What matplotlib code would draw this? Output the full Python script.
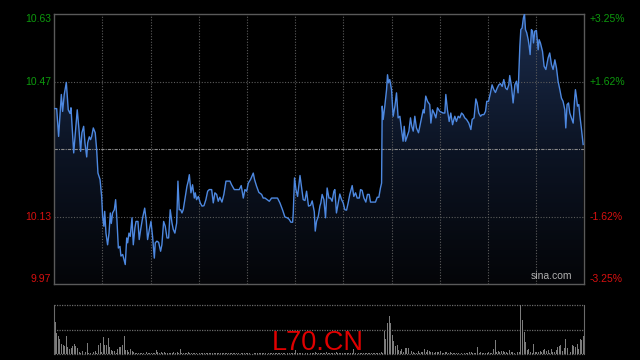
import numpy as np
import matplotlib.pyplot as plt
from matplotlib.colors import LinearSegmentedColormap

plt.rcParams['font.family'] = ['Liberation Sans', 'DejaVu Sans']

# intraday price, minutes from open
minutes = [0.4, 1.5, 2.7, 4.4, 5.2, 6.2, 7.5, 8.7, 9.8, 10.4, 12.1, 13.1, 14.3, 15.4, 16.4, 17.2, 18.3, 19.1,
           20.2, 20.8, 21.8, 22.6, 23.3, 24.3, 25.5, 26.4, 27.2, 28.5, 29.5, 30.1, 30.9, 31.4, 32.2, 33.2, 34.1,
           34.9, 35.5, 36.3, 37.4, 38.2, 39.0, 39.9, 40.9, 41.5, 42.6, 43.2, 44.2, 45.1, 45.7, 46.5, 47.3, 48.4,
           49.2, 50.2, 50.9, 52.1, 52.9, 53.8, 55.0, 56.3, 57.3, 58.1, 59.2, 60.2, 61.2, 62.3, 62.9, 63.9, 65.0,
           66.2, 67.0, 68.1, 69.1, 70.2, 71.2, 72.2, 73.3, 74.1, 75.1, 76.2, 77.0, 77.8, 78.7, 79.5, 80.3, 81.6,
           82.6, 83.4, 84.1, 85.1, 86.1, 87.2, 87.8, 88.6, 89.7, 90.9, 92.0, 93.2, 94.4, 95.5, 96.5, 98.0, 99.0,
           100.0, 101.1, 102.1, 103.1, 104.4, 105.6, 106.9, 109.4, 110.4, 112.1, 113.9, 115.2, 116.4, 117.7,
           118.7, 119.8, 120.8, 122.2, 123.9, 124.7, 126.0, 127.4, 129.1, 130.1, 131.2, 132.6, 133.9, 135.3,
           137.6, 139.0, 140.5, 142.2, 143.6, 145.1, 146.3, 147.3, 148.4, 148.8, 149.6, 150.5, 151.5, 153.0,
           154.2, 155.0, 156.1, 157.1, 158.3, 159.6, 160.6, 161.9, 162.5, 163.3, 164.4, 165.4,
           166.0, 166.8, 167.9, 168.9, 169.9, 171.0, 172.0, 173.0, 174.1, 174.7, 175.7, 176.8, 177.8, 178.9,
           179.9, 180.9, 182.0, 183.0, 184.0, 185.5, 186.5, 187.6, 188.6, 189.9, 190.7, 191.7, 192.8, 194.0,
           195.0, 196.1, 196.9, 200.0, 201.1, 202.1, 203.1, 203.8, 204.2, 204.8, 205.8, 206.9, 207.5, 208.1,
           208.9, 210.0, 211.0, 212.1, 213.1, 214.1, 215.2, 216.2, 217.2, 217.9, 218.7, 219.7, 220.8, 221.8,
           222.6, 223.5, 224.5, 225.5, 226.8, 227.6, 228.6, 229.7, 230.3, 231.3, 232.4, 233.8, 234.5, 235.5,
           236.5, 237.6, 238.6, 240.1,
           242.1, 243.2, 243.8, 244.8, 245.9, 246.9, 248.0, 248.8, 249.4, 250.4, 251.5, 252.5, 253.6, 254.6,
           255.6, 256.7, 258.1, 259.4, 260.2, 261.4, 262.5, 263.3, 264.3, 265.4, 266.4, 267.5, 268.5, 269.3,
           270.4, 271.6, 272.6, 273.7, 274.7, 275.8, 276.8, 277.8, 278.9, 279.9, 281.0, 282.0, 283.0, 283.6,
           284.7, 285.7, 286.8, 287.8, 288.8, 289.9, 290.5, 291.3, 292.1, 292.8, 293.4, 294.2, 295.1, 295.7,
           296.3, 297.1, 297.8, 298.4, 299.2, 300.2, 301.3, 301.9, 302.7, 304.0, 305.0, 306.1, 307.5, 308.5,
           309.6, 310.6, 311.7, 312.7, 313.7, 314.8, 315.8, 316.8, 317.9, 318.5, 319.3, 320.2, 321.0, 322.0,
           323.1, 323.9, 324.5, 325.1, 325.8, 326.6, 327.2, 328.3, 329.3]
prices = [10.401, 10.401, 10.332, 10.436, 10.394, 10.436, 10.466, 10.398, 10.389, 10.403, 10.291, 10.341,
          10.398, 10.349, 10.295, 10.341, 10.357, 10.316, 10.281, 10.316, 10.331, 10.324, 10.332, 10.353,
          10.341, 10.299, 10.241, 10.225, 10.183, 10.134, 10.109, 10.146, 10.092, 10.063, 10.092, 10.142,
          10.116, 10.142, 10.150, 10.175, 10.126, 10.055, 10.059, 10.035, 10.039, 10.030, 10.014, 10.080,
          10.068, 10.092, 10.084, 10.130, 10.063, 10.105, 10.121, 10.121, 10.076, 10.101, 10.130, 10.154,
          10.121, 10.076, 10.101, 10.121, 10.084, 10.030, 10.068, 10.072, 10.069, 10.047, 10.063, 10.121,
          10.109, 10.080, 10.080, 10.150, 10.117, 10.101, 10.092, 10.117, 10.221, 10.150, 10.150, 10.142,
          10.150, 10.183, 10.208, 10.221, 10.237, 10.192, 10.212, 10.179, 10.192, 10.175, 10.183, 10.167,
          10.159, 10.160, 10.175, 10.196, 10.200, 10.200, 10.167, 10.192, 10.188, 10.171, 10.181, 10.169,
          10.188, 10.221, 10.221, 10.212, 10.200, 10.200, 10.200, 10.210, 10.179, 10.200, 10.196, 10.216,
          10.225, 10.241, 10.225, 10.208, 10.193, 10.188, 10.179, 10.179, 10.175, 10.171, 10.179, 10.179,
          10.179, 10.167, 10.149, 10.132, 10.130, 10.126, 10.119, 10.119, 10.142, 10.229, 10.200, 10.183,
          10.235, 10.200, 10.175, 10.173, 10.196, 10.159, 10.161, 10.172, 10.145, 10.097, 10.121, 10.134,
          10.159,
          10.167, 10.188, 10.175, 10.130, 10.204, 10.179, 10.179, 10.171, 10.196, 10.200, 10.142, 10.167,
          10.189, 10.175, 10.167, 10.150, 10.149, 10.167, 10.188, 10.210, 10.183, 10.192, 10.179, 10.179,
          10.200, 10.198, 10.179, 10.169, 10.188, 10.188, 10.169, 10.169, 10.181, 10.181, 10.204, 10.216,
          10.407, 10.374, 10.407, 10.448, 10.485, 10.465, 10.473, 10.448, 10.382, 10.407, 10.440, 10.378,
          10.382, 10.349, 10.320, 10.357, 10.320, 10.332, 10.345, 10.378, 10.357, 10.345, 10.382, 10.353,
          10.341, 10.357, 10.378, 10.398, 10.390, 10.432, 10.419, 10.411, 10.365, 10.398, 10.390, 10.378,
          10.403, 10.394,
          10.390, 10.390, 10.436, 10.398, 10.369, 10.390, 10.361, 10.374, 10.382, 10.369, 10.382, 10.378,
          10.390, 10.386, 10.378, 10.374, 10.365, 10.349, 10.374, 10.378, 10.425, 10.415, 10.390, 10.382,
          10.386, 10.386, 10.394, 10.419, 10.419, 10.440, 10.460, 10.448, 10.441, 10.452, 10.460, 10.463,
          10.456, 10.473, 10.452, 10.448, 10.460, 10.483, 10.456, 10.415, 10.460, 10.469, 10.440, 10.556,
          10.597, 10.601, 10.626, 10.635, 10.597, 10.589, 10.572, 10.556, 10.535, 10.597, 10.593, 10.564,
          10.593, 10.595, 10.547, 10.572, 10.564, 10.543, 10.506, 10.498, 10.527, 10.539, 10.510, 10.498,
          10.522, 10.502, 10.469, 10.448, 10.427, 10.419, 10.398, 10.353, 10.411, 10.415, 10.390, 10.378,
          10.365, 10.419, 10.448, 10.431, 10.407, 10.411, 10.386, 10.349, 10.312]

# volume per minute, scaled so the largest bar = 100
volume = [66, 43, 36, 30, 21, 18, 17, 37, 14, 10, 12, 16, 21, 17, 12, 4, 3, 7, 7, 4,
          23, 2, 3, 5, 4, 7, 3, 19, 23, 5, 35, 18, 18, 33, 14, 9, 7, 7, 3, 10,
          15, 15, 18, 36, 9, 9, 5, 11, 7, 4, 3, 2, 3, 2, 2, 3, 2, 5, 2, 3,
          3, 2, 2, 9, 4, 2, 5, 2, 5, 2, 3, 3, 2, 2, 5, 3, 5, 2, 10, 3,
          2, 2, 2, 4, 3, 2, 3, 2, 2, 3, 3, 2, 3, 3, 2, 2, 2, 3, 2, 2,
          2, 3, 2, 2, 2, 3, 2, 2, 3, 2, 3, 2, 2, 3, 2, 1, 2, 3, 2, 2,
          3, 2, 2, 1, 2, 3, 2, 2, 2, 3, 2, 2, 1, 2, 3, 2, 2, 2, 3, 2,
          2, 3, 2, 2, 1, 2, 2, 3, 2, 2, 9, 2, 3, 2, 2, 3, 2, 2, 1, 2,
          3, 2, 5, 2, 2, 3, 2, 2, 2, 5, 2, 3, 2, 2, 3, 4, 2, 2, 3, 2,
          2, 3, 2, 2, 2, 3, 10, 2, 3, 2, 2, 3, 2, 2, 2, 3, 2, 2, 2, 3,
          2, 2, 3, 5, 3, 47, 30, 63, 78, 64, 39, 27, 16, 18, 9, 6, 10, 5, 12, 12,
          12, 10, 7, 4, 3, 3, 7, 3, 4, 5, 10, 5, 8, 7, 5, 4, 3, 5, 5, 4,
          7, 3, 3, 4, 5, 2, 4, 3, 2, 2, 3, 2, 1, 3, 2, 3, 3, 2, 4, 5,
          2, 3, 2, 15, 3, 4, 2, 3, 3, 2, 4, 3, 3, 10, 29, 4, 7, 5, 7, 7,
          4, 5, 3, 9, 5, 4, 2, 3, 4, 5, 100, 70, 46, 24, 9, 10, 5, 3, 21, 5,
          5, 5, 6, 5, 9, 10, 6, 9, 3, 10, 5, 5, 9, 14, 16, 18, 7, 12, 30, 12,
          9, 5, 19, 16, 14, 21, 10, 30, 28, 37]

prev_close = 10.30
price_ticks = [9.965, 10.1325, 10.30, 10.4675, 10.635]
left_labels = ['9.97', '10.13', '', '10.47', '10.63']
right_labels = ['-3.25%', '-1.62%', '', '+1.62%', '+3.25%']
session_len = 330

GREEN = '#0d9a0d'
RED = '#d81010'
GRID = '#5c5c5c'

fig = plt.figure(figsize=(6.4, 3.6), dpi=100, facecolor='black')
ax = fig.add_axes([0.0848, 0.2103, 0.8281, 0.75], facecolor='black')
vax = fig.add_axes([0.0848, 0.0158, 0.8281, 0.1375], facecolor='black')

ymin, ymax = price_ticks[0], price_ticks[-1]
ax.set_xlim(0, session_len)
ax.set_ylim(ymin, ymax)

# gradient area under the price line
cmap = LinearSegmentedColormap.from_list('area', ['#040508', '#0c1424', '#1b2c4c'])
grad = np.linspace(0, 1, 256).reshape(-1, 1)
poly = ax.fill_between(minutes, prices, ymin, color='none', lw=0)
im = ax.imshow(grad, extent=[0, session_len, ymin, ymax], origin='lower', aspect='auto',
               cmap=cmap, zorder=1)
im.set_clip_path(poly.get_paths()[0], transform=ax.transData)

ax.plot(minutes, prices, color='#4d88e0', lw=1.0, zorder=3)

for x in range(30, session_len, 30):
    ax.axvline(x, color=GRID, lw=0.8, ls=(0, (1, 1.5)), zorder=2)
for y in [price_ticks[1], price_ticks[3]]:
    ax.axhline(y, color=GRID, lw=0.8, ls=(0, (1, 1.5)), zorder=2)
ax.axhline(prev_close, color='#8a8a8a', lw=0.8, ls=(0, (3, 1, 1, 1)), zorder=2)

ax.set_xticks([])
ax.set_yticks([])
for s in ax.spines.values():
    s.set_color('#5a5a5a')
    s.set_linewidth(1.0)

for val, lab, rlab in zip(price_ticks, left_labels, right_labels):
    if not lab:
        continue
    col = GREEN if val > prev_close else RED
    va = 'center'
    if val == ymax:
        va = 'top'
    elif val == ymin:
        va = 'bottom'
    ax.text(-0.006, val, lab, transform=ax.get_yaxis_transform(), ha='right', va=va,
            color=col, fontsize=7.5)
    ax.text(1.01, val, rlab, transform=ax.get_yaxis_transform(), ha='left', va=va,
            color=col, fontsize=7.5)

ax.text(0.978, 0.012, 'sina.com', transform=ax.transAxes, ha='right', va='bottom',
        color='#b0b0b0', fontsize=7.5)

# volume panel
vax.bar(np.arange(len(volume)) + 0.5, volume, width=0.6, color='#7c7c7c', zorder=2)
vax.set_xlim(0, session_len)
vax.set_ylim(0, 100)
vax.set_xticks([])
vax.set_yticks([])
for y in [0, 50, 100]:
    vax.axhline(y, color='#6a6a6a', lw=0.9, ls=(0, (1, 1)), zorder=1, clip_on=False)
for k in ['top', 'bottom']:
    vax.spines[k].set_visible(False)
for k in ['left', 'right']:
    vax.spines[k].set_color('#6a6a6a')
    vax.spines[k].set_linewidth(0.8)

fig.text(0.497, 0.028, 'L70.CN', ha='center', va='baseline', color='#e00000', fontsize=19.5)

fig.savefig('out.png', dpi=100, facecolor='black')
